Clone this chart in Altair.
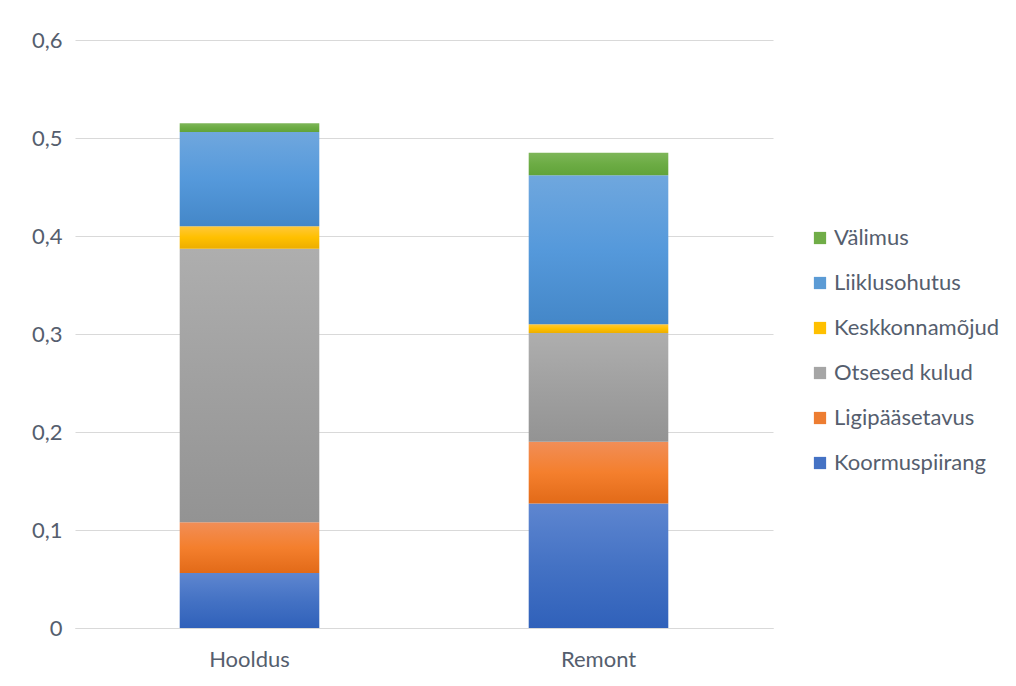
import altair as alt
import pandas as pd

categories = ["Hooldus", "Remont"]
series = ["Koormuspiirang", "Ligipääsetavus", "Otsesed kulud", "Keskkonnamõjud", "Liiklusohutus", "Välimus"]
koormuspiirang = [0.056, 0.127]
ligipaasetavus = [0.052, 0.063]
otsesed_kulud = [0.279, 0.111]
keskkonnamojud = [0.023, 0.009]
liiklusohutus = [0.096, 0.152]
valimus = [0.009, 0.023]

colors = ["#4472C4", "#ED7D31", "#A5A5A5", "#FFC000", "#5B9BD5", "#70AD47"]
grad_top = ["#5E86D0", "#F18E57", "#AEAEAE", "#FFC83A", "#6FA7DE", "#7EB659"]
grad_mid = ["#4472C4", "#F47F2D", "#A0A0A0", "#FFC000", "#5599DB", "#6CAC44"]
grad_bot = ["#3061BA", "#E26A18", "#939393", "#ECAE00", "#4487C8", "#61A33A"]

values = [koormuspiirang, ligipaasetavus, otsesed_kulud, keskkonnamojud, liiklusohutus, valimus]
rows = []
for si, s in enumerate(series):
    for ci, c in enumerate(categories):
        rows.append({"kategooria": c, "seeria": s, "vaartus": values[si][ci], "jrk": si})
df = pd.DataFrame(rows)

text_color = "#555E6E"
font = "Lato"
fs = 22

x_enc = alt.X("kategooria:N", sort=categories, title=None,
              scale=alt.Scale(paddingInner=0.6, paddingOuter=0.3),
              axis=alt.Axis(labelAngle=0, ticks=False, domain=True, domainColor="#D9D9D9",
                            grid=False,
                            labelPadding=21, labelFontSize=fs, labelColor=text_color, labelFont=font))
y_scale = alt.Scale(domain=[0, 0.6])
y_axis = alt.Axis(values=[0, 0.1, 0.2, 0.3, 0.4, 0.5, 0.6], ticks=False, domain=False,
                  labelExpr="datum.value == 0 ? '0' : replace(format(datum.value, '.1f'), '.', ',')",
                  labelPadding=13, labelFontSize=fs, labelColor=text_color, labelFont=font,
                  gridColor="#D9D9D9", gridWidth=1)

base = alt.Chart(df).transform_stack(
    stack="vaartus", groupby=["kategooria"], as_=["y0", "y1"],
    sort=[alt.SortField("jrk", order="ascending")]
)

legend_chart = base.mark_bar(opacity=0).encode(
    x=x_enc,
    y=alt.Y("y1:Q", scale=y_scale, axis=y_axis, title=None),
    y2="y0:Q",
    color=alt.Color("seeria:N",
                    scale=alt.Scale(domain=series[::-1], range=colors[::-1]),
                    legend=alt.Legend(title=None, orient="none", legendX=734, legendY=187,
                                      symbolType="square", symbolSize=150, symbolStrokeWidth=0,
                                      symbolOpacity=1, labelLimit=400,
                                      labelFontSize=fs, labelColor=text_color, labelFont=font,
                                      labelOffset=3, rowPadding=23, padding=0)),
)

layers = [legend_chart]
for si, s in enumerate(series):
    grad = alt.Gradient(gradient="linear", x1=0, y1=0, x2=0, y2=1,
                        stops=[alt.GradientStop(offset=0, color=grad_top[si]),
                               alt.GradientStop(offset=0.5, color=grad_mid[si]),
                               alt.GradientStop(offset=1, color=grad_bot[si])])
    layer = base.transform_filter(alt.datum.seeria == s).mark_bar(fill=grad).encode(
        x=alt.X("kategooria:N", sort=categories, scale=alt.Scale(paddingInner=0.6, paddingOuter=0.3)),
        y=alt.Y("y1:Q", scale=y_scale),
        y2="y0:Q",
    )
    layers.append(layer)

chart = alt.layer(*layers).properties(
    width=698, height=588,
    background="white",
    autosize=alt.AutoSizeParams(type="none"),
    padding={"left": 67, "top": 32, "right": 235, "bottom": 50},
).configure_view(stroke="transparent", strokeWidth=0)

chart.save("out.html", embed_options={"renderer": "svg", "actions": False})
